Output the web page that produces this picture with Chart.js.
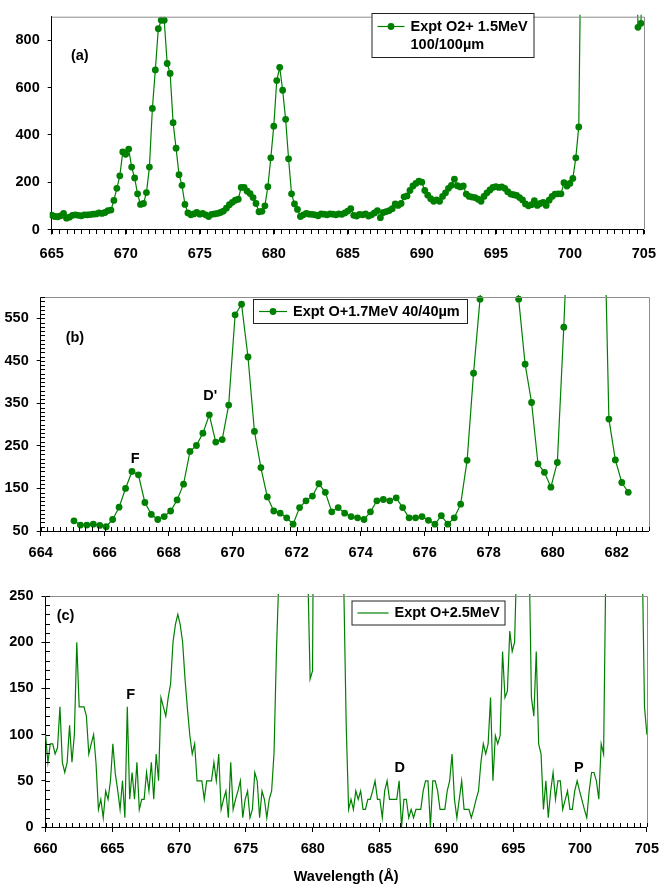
<!DOCTYPE html>
<html>
<head>
<meta charset="utf-8">
<script src="https://cdn.jsdelivr.net/npm/chart.js@4/dist/chart.umd.min.js"></script>
<style>
  body { margin: 0; background: #fff; }
  #wrap { position: relative; width: 667px; height: 886px; }
  canvas { position: absolute; left: 0; }
</style>
</head>
<body>
<div id="wrap">
  <canvas id="chartA" width="667" height="275" style="top:0px"></canvas>
  <canvas id="chartB" width="667" height="290" style="top:280px"></canvas>
  <canvas id="chartC" width="667" height="316" style="top:570px"></canvas>
</div>
<script>
// ---- panel (a): Expt O2+ 1.5MeV, 0.2 A sampling from 665 A ----
const labelA = ['Expt O2+ 1.5MeV', '100/100µm'];
const wlStartA = 665;
const wlStepA = 0.2;
const intensityA = [
  61, 55, 54, 58, 68, 48, 52, 60, 62, 60,
  58, 62, 62, 63, 65, 66, 70, 68, 72, 80,
  82, 123, 174, 227, 328, 318, 340, 264, 218, 151,
  106, 110, 156, 264, 512, 675, 849, 885, 885, 702,
  660, 452, 344, 232, 187, 106, 70, 62, 66, 72,
  65, 68, 62, 55, 64, 66, 68, 72, 78, 90,
  105, 115, 124, 128, 178, 178, 162, 152, 135, 110,
  75, 77, 100, 181, 303, 437, 630, 686, 589, 466,
  299, 151, 108, 85, 55, 62, 68, 65, 64, 62,
  58, 66, 65, 62, 66, 65, 62, 66, 64, 70,
  78, 88, 60, 57, 64, 62, 66, 57, 62, 70,
  80, 50, 72, 76, 80, 88, 108, 102, 110, 138,
  142, 165, 184, 195, 205, 200, 165, 145, 130, 119,
  125, 119, 140, 155, 174, 187, 213, 185, 180, 184,
  150, 140, 137, 135, 128, 119, 140, 155, 167, 178,
  181, 178, 180, 174, 160, 150, 147, 144, 135, 125,
  108, 100, 105, 122, 102, 110, 115, 102, 124, 140,
  150, 151, 151, 198, 184, 195, 216, 303, 434, 1500,
  1500, 1500, 1500, 1500, 1500, 1500, 1500, 1500, 1500, 1500,
  1500, 1500, 1500, 1500, 1500, 1500, 1500, 1500, 855, 872,
  1500
];
const xTicksA = [665, 670, 675, 680, 685, 690, 695, 700, 705];
const yTicksA = [0, 200, 400, 600, 800];
const notesA = [{ text: '(a)', x: 666.9, y: 733 }];

// ---- panel (b): Expt O+1.7MeV 40/40µm ----
const labelB = ['Expt O+1.7MeV 40/40µm'];
const wlStartB = 665.04;
const wlStepB = 0.2014;
const intensityB = [
  74, 64, 64, 66, 63, 60, 77, 106, 150, 190,
  182, 117, 89, 77, 84, 97, 123, 160, 237, 251,
  280, 323, 259, 265, 346, 558, 583, 459, 284, 199,
  130, 97, 92, 81, 66, 105, 121, 132, 161, 141,
  95, 105, 92, 84, 81, 77, 95, 121, 124, 121,
  128, 105, 81, 81, 84, 75, 66, 86, 66, 81,
  113, 216, 421, 595, 800, 1000, 1000, 1000, 800, 595,
  442, 352, 208, 188, 153, 211, 529, 900, 1000, 1000,
  1000, 1000, 1000, 313, 217, 164, 141
];
const xTicksB = [664, 666, 668, 670, 672, 674, 676, 678, 680, 682];
const yTicksB = [50, 150, 250, 350, 450, 550];
const notesB = [
  { text: '(b)', x: 665.07, y: 503 },
  { text: 'F', x: 666.95, y: 219 },
  { text: "D'", x: 669.3, y: 368 }
];

// ---- panel (c): Expt O+2.5MeV ----
const labelC = ['Expt O+2.5MeV'];
const wlStartC = 660;
const wlStepC = 0.18;
const intensityC = [
  100, 70, 90, 90, 79, 86, 130, 70, 59, 70, 110, 70, 100, 200,
  130, 130, 130, 120, 79, 90, 100, 69, 19, 30, 10, 39, 30, 50, 90, 58, 40, 19, 50, 10,
  130, 30, 59, 30, 70, 19, 30, 30, 59, 39, 70, 30, 79, 50,
  140, 130, 120, 140, 155, 200, 219, 230, 219, 200, 160, 128, 99, 79, 90,
  50, 50, 50, 30, 50, 50, 50, 70, 50, 79, 19, 30, 39, 10,
  70, 19, 30, 39, 50, 10, 30, 39, 10, 19, 59, 50, 10, 39, 30, 10, 30, 39, 80, 190, 270,
  600, 600, 600, 600, 600, 600, 600, 600, 600, 600, 600,
  280, 160, 169,
  600, 600, 600, 600, 600, 600, 600, 600, 600, 600, 600, 600, 260,
  110, 19,
  30, 19, 39, 30, 39, 19, 19, 30, 30, 39, 50, 30, 30, 10, 39, 50, 30, 30, 30, 30, 50,
  0,
  30, 30, 10, 19, 10, 19, 19, 19, 39, 50, 50,
  0,
  50, 50, 39, 19,
  19, 19, 39, 50, 79, 30, 10, 30, 50, 19, 19, 19, 10, 19, 30, 39, 70, 90, 79, 90,
  140, 50, 99, 90, 99, 190, 140, 147, 212, 190, 200,
  300, 600, 600, 600, 600, 300,
  140, 120, 190, 90, 79, 19, 50, 10, 39, 59, 30, 50, 50, 19, 29, 39, 19, 19, 39, 50,
  39, 29, 19, 10, 39, 59, 59, 50, 30, 90, 79,
  300, 600, 600, 600, 600, 600, 600, 600, 600, 600, 600, 600, 600, 600, 600,
  300, 130, 100
];
const xTicksC = [660, 665, 670, 675, 680, 685, 690, 695, 700, 705];
const yTicksC = [0, 50, 100, 150, 200, 250];
const notesC = [
  { text: '(c)', x: 661.5, y: 228 },
  { text: 'F', x: 666.37, y: 143 },
  { text: 'D', x: 686.5, y: 64 },
  { text: 'P', x: 699.9, y: 64 }
];

const green = '#008000';
const fontFam = '"Liberation Sans", Arial, sans-serif';
Chart.defaults.font.family = fontFam;
Chart.defaults.font.size = 14.5;
Chart.defaults.font.weight = 'bold';
Chart.defaults.color = '#000';

function toPoints(start, step, values) {
  return values.map((v, i) => ({ x: +(start + i * step).toFixed(4), y: v }));
}

// grey frame, minor ticks, in-plot notes and the boxed legend
const decor = {
  id: 'decor',
  afterDatasetsDraw(chart, args, o) {
    const { ctx, chartArea: a, scales: { x, y } } = chart;
    ctx.save();
    ctx.lineWidth = 1;
    ctx.strokeStyle = '#8c8c8c';
    ctx.beginPath();
    ctx.moveTo(a.left, a.top + 0.5);
    ctx.lineTo(Math.round(a.right) + 0.5, a.top + 0.5);
    ctx.lineTo(Math.round(a.right) + 0.5, a.bottom);
    ctx.stroke();

    ctx.strokeStyle = '#000';
    ctx.beginPath();
    const nx = Math.round((x.max - x.min) / o.xMinor);
    for (let i = 0; i <= nx; i++) {
      const px = Math.round(x.getPixelForValue(x.min + i * o.xMinor)) + 0.5;
      const b = Math.round(a.bottom);
      ctx.moveTo(px, b);
      ctx.lineTo(px, o.xIn ? b - 4 : b + 4);
    }
    if (o.yMinor) {
      const ny = Math.round((y.max - y.min) / o.yMinor);
      for (let i = 0; i <= ny; i++) {
        const py = Math.round(y.getPixelForValue(y.min + i * o.yMinor)) + 0.5;
        ctx.moveTo(Math.round(a.left), py);
        ctx.lineTo(Math.round(a.left) + 4, py);
      }
    }
    ctx.stroke();

    ctx.fillStyle = '#000';
    ctx.font = 'bold 14.5px ' + fontFam;
    ctx.textAlign = 'center';
    ctx.textBaseline = 'middle';
    o.notes.forEach(n => ctx.fillText(n.text, x.getPixelForValue(n.x), y.getPixelForValue(n.y)));

    const L = o.legend;
    ctx.fillStyle = '#fff';
    ctx.fillRect(L.x, L.y, L.w, L.h);
    ctx.strokeStyle = '#222';
    ctx.strokeRect(L.x + 0.5, L.y + 0.5, L.w, L.h);
    const ly = L.y + L.line;
    ctx.strokeStyle = green;
    ctx.lineWidth = 1.2;
    ctx.beginPath();
    ctx.moveTo(L.x + 6, ly);
    ctx.lineTo(L.x + L.sample, ly);
    ctx.stroke();
    if (L.dot) {
      ctx.fillStyle = green;
      ctx.beginPath();
      ctx.arc(L.x + 6 + (L.sample - 6) / 2, ly, 3.4, 0, Math.PI * 2);
      ctx.fill();
    }
    ctx.fillStyle = '#000';
    ctx.textAlign = 'left';
    L.text.forEach((t, k) => ctx.fillText(t, L.x + L.sample + 6, ly + k * 18.3));
    ctx.restore();
  }
};

function panel(id, p) {
  return new Chart(document.getElementById(id), {
    type: 'line',
    data: {
      datasets: [{
        label: p.text.join(' '),
        data: p.points,
        borderColor: green,
        backgroundColor: green,
        borderWidth: p.lineWidth,
        pointRadius: p.dot ? 3.4 : 0,
        pointBorderWidth: 0,
        pointBackgroundColor: green,
        tension: 0,
        clip: 2
      }]
    },
    options: {
      responsive: false,
      animation: false,
      devicePixelRatio: 1,
      layout: { padding: { top: p.top, right: p.right, bottom: 0, left: 0 } },
      plugins: {
        legend: { display: false },
        tooltip: { enabled: false },
        decor: {
          xMinor: p.xMinor, xIn: p.xIn, yMinor: p.yMinor,
          notes: p.notes,
          legend: { x: p.legendBox[0], y: p.legendBox[1], w: p.legendBox[2], h: p.legendBox[3],
                    line: p.legendBox[4], sample: p.legendBox[5], dot: p.dot, text: p.text }
        }
      },
      scales: {
        x: {
          type: 'linear', min: p.xMin, max: p.xMax,
          afterBuildTicks: s => { s.ticks = p.xTicks.map(v => ({ value: v })); },
          afterFit: s => { s.height = p.xHeight; },
          ticks: { padding: p.xPad, autoSkip: false, maxRotation: 0, callback: v => String(v) },
          grid: { drawOnChartArea: false, color: '#000', tickLength: 5 },
          border: { color: '#000' },
          title: p.title ? { display: true, text: p.title, padding: { top: 0, bottom: 0 },
                             font: { size: 14.5, weight: 'bold' } } : { display: false }
        },
        y: {
          min: p.yMin, max: p.yMax,
          afterBuildTicks: s => { s.ticks = p.yTicks.map(v => ({ value: v })); },
          afterFit: s => { s.width = p.left; },
          ticks: { padding: 8, callback: v => String(v) },
          grid: { drawOnChartArea: false, color: '#000', tickLength: 4 },
          border: { color: '#000' }
        }
      }
    },
    plugins: [decor]
  });
}

panel('chartA', {
  points: toPoints(wlStartA, wlStepA, intensityA), text: labelA, dot: true, lineWidth: 1.2,
  xMin: 665, xMax: 705, yMin: 0, yMax: 900, xTicks: xTicksA, yTicks: yTicksA,
  top: 11.7, right: 15.3, left: 51.7, xHeight: 45.5, xPad: 11,
  xMinor: 0.5, xIn: false, yMinor: 0, notes: notesA,
  legendBox: [371.5, 13, 162, 44, 13.5, 33]
});

panel('chartB', {
  points: toPoints(wlStartB, wlStepB, intensityB), text: labelB, dot: true, lineWidth: 1.2,
  xMin: 664, xMax: 683, yMin: 50, yMax: 600, xTicks: xTicksB, yTicks: yTicksB,
  top: 17, right: 18.3, left: 40.7, xHeight: 39, xPad: 8,
  xMinor: 0.2, xIn: true, yMinor: 10, notes: notesB,
  legendBox: [253, 299 - 280, 214, 24, 12.5, 34]
});

panel('chartC', {
  points: toPoints(wlStartC, wlStepC, intensityC), text: labelC, dot: false, lineWidth: 1.2,
  xMin: 660, xMax: 705, yMin: 0, yMax: 250, xTicks: xTicksC, yTicks: yTicksC,
  top: 26, right: 19.8, left: 45.5, xHeight: 59, xPad: 8,
  xMinor: 0.5, xIn: true, yMinor: 10, notes: notesC, title: 'Wavelength (Å)',
  legendBox: [351.5, 600.5 - 570, 153, 24, 12.5, 37]
});
</script>
</body>
</html>
